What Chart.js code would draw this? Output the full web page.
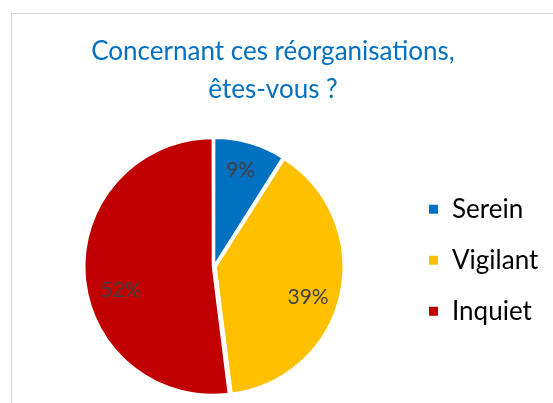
<!DOCTYPE html>
<html lang="fr">
<head>
<meta charset="UTF-8">
<title>Concernant ces réorganisations</title>
<script src="https://cdn.jsdelivr.net/npm/chart.js"></script>
<style>
    html, body { margin: 0; padding: 0; background: #fff; }
    .wrap { position: relative; width: 553px; height: 403px; overflow: hidden; }
    .frame { position: absolute; left: 11px; top: 13px; width: 600px; height: 450px; border: 1px solid #d9d9d9; }
    canvas { position: absolute; left: 0; top: 0; }
</style>
</head>
<body>
<div class="wrap">
    <div class="frame"></div>
    <canvas id="pie" width="553" height="403"></canvas>
</div>
<script>
const categories = ['Serein', 'Vigilant', 'Inquiet'];
const values = [9, 39, 52];
const sliceColors = ['#0070C0', '#FFC000', '#C00000'];
const titleLines = ['Concernant ces réorganisations,', 'êtes-vous ?'];

// small nudges so the labels sit where Excel put them
const labelNudge = [[0, -5], [-2, 9], [3, 18]];

// percent labels inside each slice
const sliceLabels = {
    id: 'sliceLabels',
    afterDatasetsDraw(chart) {
        const ctx = chart.ctx;
        const meta = chart.getDatasetMeta(0);
        const total = values.reduce((a, b) => a + b, 0);
        ctx.save();
        ctx.font = '21px Lato';
        ctx.fillStyle = '#404040';
        ctx.textAlign = 'center';
        ctx.textBaseline = 'middle';
        meta.data.forEach((arc, i) => {
            const p = arc.getProps(['x', 'y', 'startAngle', 'endAngle', 'outerRadius']);
            const mid = (p.startAngle + p.endAngle) / 2;
            const d = arc.options.offset + p.outerRadius * 0.72;
            const txt = Math.round(values[i] / total * 100) + '%';
            ctx.fillText(txt, p.x + Math.cos(mid) * d + labelNudge[i][0], p.y + Math.sin(mid) * d + labelNudge[i][1]);
        });
        ctx.restore();
    }
};

const chart = new Chart(document.getElementById('pie'), {
    type: 'pie',
    data: {
        labels: categories,
        datasets: [{
            data: values,
            backgroundColor: sliceColors,
            borderColor: '#ffffff',
            borderWidth: 2,
            offset: [4, 7, 5]
        }]
    },
    options: {
        responsive: false,
        animation: false,
        layout: { padding: { left: 25, right: 32, top: 0, bottom: 5 } },
        plugins: {
            title: {
                display: true,
                text: titleLines,
                color: '#0070C0',
                font: { family: 'Lato', size: 26, weight: 'normal', lineHeight: 1.47 },
                padding: { top: 32, bottom: 26.5 }
            },
            legend: {
                position: 'right',
                align: 'start',
                maxWidth: 118,
                title: { display: true, text: ' ', font: { size: 1 }, padding: 85 },
                labels: {
                    color: '#000000',
                    font: { family: 'Lato', size: 26 },
                    boxWidth: 11,
                    boxHeight: 11,
                    padding: 25
                }
            },
            tooltip: { enabled: false }
        }
    },
    plugins: [sliceLabels]
});

// the legend box is kept narrow so the title stays centred; let its text run past it
chart.legend.draw = function () {
    if (this.options.display) this._draw();
};
chart.draw();
</script>
</body>
</html>
